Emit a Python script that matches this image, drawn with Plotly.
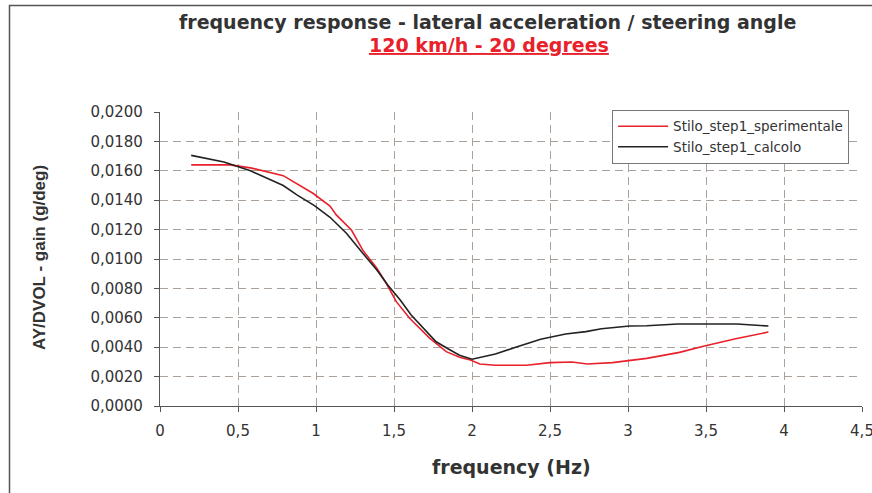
import plotly.graph_objects as go

# Frequency (Hz) and gain (g/deg) for the measured response
freq_sperimentale = [0.20, 0.45, 0.58, 0.79, 0.98, 1.09, 1.13, 1.227, 1.30, 1.39, 1.45, 1.515,
                     1.60, 1.73, 1.835, 1.92, 1.99, 2.05, 2.15, 2.35, 2.50, 2.64, 2.74,
                     2.90, 3.12, 3.33, 3.49, 3.69, 3.90]
gain_sperimentale = [0.01640, 0.01640, 0.01620, 0.01567, 0.01447, 0.01360, 0.01300, 0.01197,
                     0.01060, 0.00937, 0.00835, 0.00710, 0.00597, 0.00460, 0.00370, 0.00331,
                     0.00313, 0.00286, 0.00277, 0.00277, 0.00295, 0.00299, 0.00286,
                     0.00295, 0.00324, 0.00365, 0.00408, 0.00458, 0.00503]

# Frequency (Hz) and gain (g/deg) for the computed response
freq_calcolo = [0.20, 0.41, 0.58, 0.79, 0.88, 0.99, 1.09, 1.195, 1.30, 1.39, 1.46, 1.54,
                1.61, 1.69, 1.77, 1.86, 1.92, 2.00, 2.15, 2.28, 2.44, 2.60, 2.73, 2.83,
                3.01, 3.12, 3.32, 3.52, 3.70, 3.90]
gain_calcolo = [0.01705, 0.01660, 0.01600, 0.01500, 0.01435, 0.01363, 0.01284, 0.01175,
                0.01039, 0.00925, 0.00823, 0.00721, 0.00619, 0.00528, 0.00437, 0.00381,
                0.00345, 0.00318, 0.00354, 0.00399, 0.00454, 0.00490, 0.00506, 0.00526,
                0.00544, 0.00546, 0.00558, 0.00558, 0.00558, 0.00544]

x_ticks = [0, 0.5, 1, 1.5, 2, 2.5, 3, 3.5, 4, 4.5]
x_tick_labels = ["0", "0,5", "1", "1,5", "2", "2,5", "3", "3,5", "4", "4,5"]
y_ticks = [i * 0.002 for i in range(11)]
y_tick_labels = ["0,0000", "0,0020", "0,0040", "0,0060", "0,0080", "0,0100",
                 "0,0120", "0,0140", "0,0160", "0,0180", "0,0200"]

RED = "#e8212b"
BLACK = "#222222"
TEXT = "#333333"
GRID = "#aaa19b"
FONT = "DejaVu Sans"

fig = go.Figure()
fig.add_trace(go.Scatter(x=freq_sperimentale, y=gain_sperimentale, mode="lines",
                         name="Stilo_step1_sperimentale",
                         line=dict(color=RED, width=1.6)))
fig.add_trace(go.Scatter(x=freq_calcolo, y=gain_calcolo, mode="lines",
                         name="Stilo_step1_calcolo",
                         line=dict(color=BLACK, width=1.6)))

axis_common = dict(
    showgrid=True, gridcolor=GRID, gridwidth=1, griddash="8px,5px",
    showline=True, linecolor="#555555", linewidth=1.2,
    ticks="outside", ticklen=5, tickcolor="#555555", tickwidth=1,
    tickfont=dict(family=FONT, size=15, color=TEXT),
    zeroline=False, fixedrange=True, automargin=False,
)

fig.update_layout(
    width=872, height=493,
    margin=dict(l=160, r=10, t=112, b=87),
    paper_bgcolor="white", plot_bgcolor="white",
    showlegend=True,
    legend=dict(
        x=0.644, y=1.007, xanchor="left", yanchor="top",
        bgcolor="white", bordercolor="#777777", borderwidth=1,
        font=dict(family=FONT, size=13.5, color=TEXT),
        itemwidth=50, tracegroupgap=0,
    ),
    xaxis=dict(range=[0, 4.5], tickvals=x_ticks, ticktext=x_tick_labels,
               ticklabeloverflow="allow", ticklabelstandoff=6, **axis_common),
    yaxis=dict(range=[0, 0.02], tickvals=y_ticks, ticktext=y_tick_labels,
               ticklabelstandoff=8, **axis_common),
    annotations=[
        dict(text="<b>frequency response - lateral acceleration / steering angle</b>",
             xref="paper", yref="paper", x=(487 - 160) / 702, y=(406 - 22) / 294,
             xanchor="center", yanchor="middle", showarrow=False,
             font=dict(family=FONT, size=19, color=TEXT)),
        dict(text="<b><u>120 km/h - 20 degrees</u></b>",
             xref="paper", yref="paper", x=(489 - 160) / 702, y=(406 - 45) / 294,
             xanchor="center", yanchor="middle", showarrow=False,
             font=dict(family=FONT, size=19, color=RED)),
        dict(text="<b>frequency (Hz)</b>",
             xref="paper", yref="paper", x=(511 - 160) / 702, y=(406 - 467) / 294,
             xanchor="center", yanchor="middle", showarrow=False,
             font=dict(family=FONT, size=19, color=TEXT)),
        dict(text="<b>AY/DVOL - gain (g/deg)</b>",
             xref="paper", yref="paper", x=(39 - 160) / 702, y=(406 - 258) / 294,
             xanchor="center", yanchor="middle", showarrow=False, textangle=-90,
             font=dict(family="Liberation Sans", size=17, color=TEXT)),
    ],
    shapes=[
        # outer chart frame
        dict(type="rect", xref="paper", yref="paper",
             x0=(9.5 - 160) / 702, x1=(900 - 160) / 702,
             y0=(406 - 520) / 294, y1=(406 - 5.5) / 294,
             line=dict(color="#555555", width=1.5), fillcolor="rgba(0,0,0,0)",
             layer="below"),
    ],
)

fig.write_html("out.html")
